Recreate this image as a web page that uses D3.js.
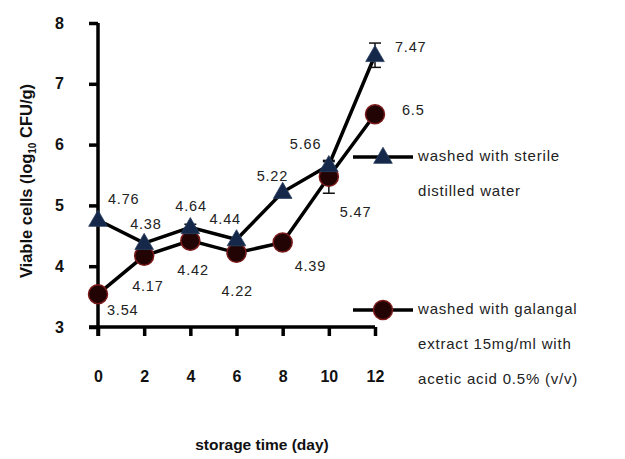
<!DOCTYPE html>
<html><head><meta charset="utf-8">
<script src="https://cdn.jsdelivr.net/npm/d3@7"></script>
<style>body{margin:0;background:#fff}svg{display:block}</style>
</head><body>
<script>
const days = [0, 2, 4, 6, 8, 10, 12];
const waterVals = [4.76, 4.38, 4.64, 4.44, 5.22, 5.66, 7.47];
const galangalVals = [3.54, 4.17, 4.42, 4.22, 4.39, 5.47, 6.5];
const waterErr = [0, 0, 0.05, 0, 0, 0.06, 0.2];
const galangalErr = [0, 0, 0.05, 0.12, 0, 0.27, 0.08];
const yTicks = [3, 4, 5, 6, 7, 8];
const seriesNames = [["washed with sterile", "distilled water"],
  ["washed with galangal", "extract 15mg/ml with", "acetic acid 0.5% (v/v)"]];
// label offsets (dx, dy) per point
const waterLabelOff = [[10,-20],[-14,-18],[-15,-20],[-27,-19],[-26,-15],[-39,-20],[20,-7]];
const galLabelOff = [[9,17],[-12,31],[-13,31],[-15,39],[12,25],[11,36],[27,-3]];

const W = 625, H = 459;
const svg = d3.select("body").append("svg").attr("width", W).attr("height", H);
const x = d3.scaleLinear().domain([0, 12]).range([98, 375]);
const y = d3.scaleLinear().domain([3, 8]).range([327, 23]);

// axes
const yAxis = d3.axisLeft(y).tickValues(yTicks).tickSize(9).tickFormat(d3.format("d"));
const gy = svg.append("g").attr("transform", "translate(98,0)").call(yAxis);
gy.select(".domain").attr("d", "M0,23V336").attr("stroke", "#000").attr("stroke-width", 3.5);
gy.selectAll(".tick line").attr("stroke", "#000").attr("stroke-width", 3.5);
gy.selectAll(".tick text").attr("x", -34).attr("font-family", "Liberation Sans, Arial, sans-serif")
  .attr("font-weight", "bold").attr("font-size", 16).attr("fill", "#111");

const xAxis = d3.axisBottom(x).tickValues(days).tickSize(9).tickFormat(d3.format("d"));
const gx = svg.append("g").attr("transform", "translate(0,327)").call(xAxis);
gx.select(".domain").attr("d", "M89,0H375").attr("stroke", "#000").attr("stroke-width", 3.5);
gx.selectAll(".tick line").attr("stroke", "#000").attr("stroke-width", 3.5);
gx.selectAll(".tick text").attr("y", 44).attr("font-family", "Liberation Sans, Arial, sans-serif")
  .attr("font-weight", "bold").attr("font-size", 16).attr("fill", "#111");

// titles
svg.append("text").attr("x", 262).attr("y", 450).attr("text-anchor", "middle")
  .attr("font-family", "Liberation Sans, Arial, sans-serif").attr("font-weight", "bold")
  .attr("font-size", 15.5).attr("fill", "#111").text("storage time (day)");
const yt = svg.append("text").attr("transform", "translate(32,181) rotate(-90)").attr("text-anchor", "middle")
  .attr("font-family", "Liberation Sans Narrow, Liberation Sans, Arial, sans-serif").attr("font-weight", "bold")
  .attr("font-size", 16.5).attr("fill", "#111");
yt.append("tspan").text("Viable cells (log");
yt.append("tspan").attr("font-size", 10).attr("dy", 4).text("10");
yt.append("tspan").attr("dy", -4).text(" CFU/g)");

const line = d3.line().x((d, i) => x(days[i])).y(d => y(d));
const triColor = "#16284a", circFill = "#220404", circStroke = "#7a1a1a";

function drawSeries(vals, errs, kind, offs) {
  svg.append("path").datum(vals).attr("d", line).attr("fill", "none").attr("stroke", "#000").attr("stroke-width", 3.5);
  // error bars
  vals.forEach((v, i) => {
    if (!errs[i]) return;
    const cx = x(days[i]);
    const g = svg.append("g").attr("stroke", "#111").attr("stroke-width", 1.5);
    g.append("line").attr("x1", cx).attr("x2", cx).attr("y1", y(v + errs[i])).attr("y2", y(v - errs[i]));
    g.append("line").attr("x1", cx - 6).attr("x2", cx + 6).attr("y1", y(v + errs[i])).attr("y2", y(v + errs[i]));
    g.append("line").attr("x1", cx - 6).attr("x2", cx + 6).attr("y1", y(v - errs[i])).attr("y2", y(v - errs[i]));
  });
  vals.forEach((v, i) => {
    drawMarker(kind, x(days[i]), y(v));
    svg.append("text").attr("x", x(days[i]) + offs[i][0]).attr("y", y(v) + offs[i][1])
      .attr("dominant-baseline", "middle").attr("font-family", "Liberation Sans, Arial, sans-serif")
      .attr("font-size", 14.5).attr("letter-spacing", 0.8).attr("fill", "#222").text(v);
  });
}
function drawMarker(kind, cx, cy) {
  if (kind === "tri") {
    svg.append("path").attr("d", d3.symbol(d3.symbolTriangle, 150)())
      .attr("transform", `translate(${cx},${cy + 1})`).attr("fill", triColor).attr("stroke", "#2a4060").attr("stroke-width", 0.8);
  } else {
    svg.append("circle").attr("cx", cx).attr("cy", cy).attr("r", 9.5)
      .attr("fill", circFill).attr("stroke", circStroke).attr("stroke-width", 1.5);
  }
}
drawSeries(galangalVals, galangalErr, "circ", galLabelOff);
drawSeries(waterVals, waterErr, "tri", waterLabelOff);

// legend
const legY = [157, 310];
[["tri", 0], ["circ", 1]].forEach(([kind, k]) => {
  svg.append("line").attr("x1", 353).attr("x2", 413).attr("y1", legY[k]).attr("y2", legY[k])
    .attr("stroke", "#000").attr("stroke-width", 3.5);
  drawMarker(kind, 383, legY[k]);
  seriesNames[k].forEach((t, j) => {
    svg.append("text").attr("x", 418).attr("y", legY[k] + j * 35).attr("dominant-baseline", "middle")
      .attr("font-family", "Liberation Sans, Arial, sans-serif").attr("font-size", 15).attr("letter-spacing", 0.8)
      .attr("fill", "#222").text(t);
  });
});
</script>
</body></html>
